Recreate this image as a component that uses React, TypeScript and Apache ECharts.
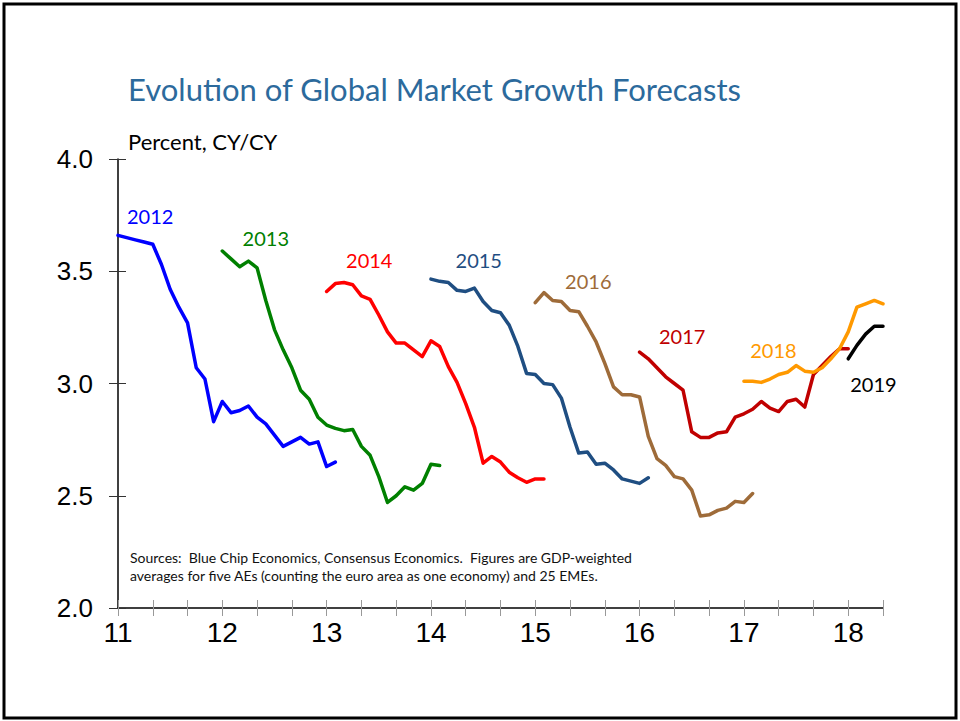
import React, { useEffect, useRef } from "react";
import * as echarts from "echarts";

// Months counted from Jan 2011 (0) ; x-axis labels are years (11 = 2011)
const xTickLabels = ["11", "12", "13", "14", "15", "16", "17", "18"];
const yTickLabels = ["2.0", "2.5", "3.0", "3.5", "4.0"];

const seriesNames = ["2012", "2013", "2014", "2015", "2016", "2017", "2018", "2019"];
const seriesStartMonth = [0, 12, 24, 36, 48, 60, 72, 84];

const f2012 = [3.66, 3.65, 3.64, 3.63, 3.62, 3.53, 3.42, 3.34, 3.27, 3.07, 3.02, 2.83, 2.92, 2.87, 2.88, 2.9, 2.85, 2.82, 2.77, 2.72, 2.74, 2.76, 2.73, 2.74, 2.63, 2.65];
const f2013 = [3.59, 3.555, 3.52, 3.545, 3.515, 3.37, 3.24, 3.15, 3.07, 2.97, 2.93, 2.85, 2.815, 2.8, 2.79, 2.795, 2.72, 2.68, 2.585, 2.47, 2.5, 2.54, 2.525, 2.555, 2.64, 2.635];
const f2014 = [3.41, 3.445, 3.45, 3.44, 3.39, 3.375, 3.305, 3.23, 3.18, 3.18, 3.15, 3.12, 3.19, 3.165, 3.075, 3.005, 2.91, 2.805, 2.645, 2.675, 2.65, 2.605, 2.58, 2.56, 2.575, 2.575];
const f2015 = [3.465, 3.455, 3.45, 3.415, 3.41, 3.425, 3.365, 3.325, 3.315, 3.26, 3.165, 3.045, 3.04, 3.0, 2.995, 2.935, 2.805, 2.69, 2.695, 2.64, 2.645, 2.615, 2.575, 2.565, 2.555, 2.58];
const f2016 = [3.36, 3.405, 3.37, 3.365, 3.325, 3.32, 3.255, 3.185, 3.09, 2.985, 2.95, 2.95, 2.94, 2.765, 2.665, 2.635, 2.585, 2.575, 2.525, 2.41, 2.415, 2.435, 2.445, 2.475, 2.47, 2.51];
const f2017 = [3.14, 3.11, 3.07, 3.03, 3.0, 2.97, 2.785, 2.76, 2.76, 2.78, 2.785, 2.85, 2.865, 2.885, 2.92, 2.89, 2.875, 2.92, 2.93, 2.895, 3.04, 3.08, 3.12, 3.155, 3.155];
const f2018 = [3.01, 3.01, 3.005, 3.02, 3.04, 3.05, 3.08, 3.055, 3.05, 3.07, 3.11, 3.155, 3.23, 3.34, 3.355, 3.37, 3.355];
const f2019 = [3.11, 3.17, 3.22, 3.255, 3.255];

const seriesValues = [f2012, f2013, f2014, f2015, f2016, f2017, f2018, f2019];

// Label anchors in data space: [month, value]
const labelMonth = [3.7, 17.0, 28.9, 41.5, 54.1, 64.9, 75.4, 86.9];
const labelValue = [3.746, 3.648, 3.55, 3.55, 3.457, 3.212, 3.149, 2.998];

const seriesColors = ["#0000FF", "#008000", "#FF0000", "#1F4E82", "#9E6B39", "#C00000", "#FF9900", "#000000"];

const titleText = "Evolution of Global Market Growth Forecasts";
const unitText = "Percent, CY/CY";
const noteLines = [
  "Sources:  Blue Chip Economics, Consensus Economics.  Figures are GDP-weighted",
  "averages for five AEs (counting the euro area as one economy) and 25 EMEs.",
];

export default function App() {
  const ref = useRef<HTMLDivElement>(null);
  useEffect(() => {
    if (!ref.current) return;
    const chart = echarts.init(ref.current, undefined, { renderer: "svg" });
    const xMax = (xTickLabels.length - 1) * 12 + 4;
    const xLabelFmt = (v: number) => {
      if (v % 12 !== 0) return "";
      const i = v / 12;
      return xTickLabels[i] ?? "";
    };
    const yLabelFmt = (v: number) => {
      const i = Math.round((v - 2) / 0.5);
      return yTickLabels[i] ?? "";
    };
    const grid = { left: 118, top: 159, width: 765, height: 449 };
    const series: any[] = seriesValues.map((vals, si) => ({
      type: "line",
      name: seriesNames[si],
      data: vals.map((v, i) => [seriesStartMonth[si] + i, v]),
      symbol: "none",
      showSymbol: false,
      lineStyle: { color: seriesColors[si], width: 3.5, cap: "round", join: "round" },
      itemStyle: { color: seriesColors[si] },
      z: 2 + si,
      markPoint: {
        silent: true,
        symbol: "circle",
        symbolSize: 0,
        data: [{ coord: [labelMonth[si], labelValue[si]], value: seriesNames[si] }],
        label: {
          show: true,
          position: "inside",
          formatter: seriesNames[si],
          color: seriesColors[si],
          fontSize: 20,
          fontFamily: "Lato",
        },
      },
    }));
    chart.setOption({
      animation: false,
      backgroundColor: "#ffffff",
      grid,
      xAxis: [
        {
          type: "value",
          position: "bottom",
          min: 0,
          max: xMax,
          interval: 4,
          splitLine: { show: false },
          axisLine: { show: true, onZero: false, lineStyle: { color: "#000", width: 1.5 } },
          axisTick: { show: true, inside: false, length: 8, lineStyle: { color: "#999", width: 1 } },
          axisLabel: {
            show: true,
            formatter: xLabelFmt,
            color: "#000",
            fontSize: 28,
            fontFamily: "Liberation Sans",
            margin: 10,
          },
        },
        {
          type: "value",
          position: "bottom",
          min: 0,
          max: xMax,
          interval: 4,
          splitLine: { show: false },
          axisLine: { show: false, onZero: false },
          axisTick: { show: true, inside: true, length: 8, lineStyle: { color: "#999", width: 1 } },
          axisLabel: { show: false },
        },
      ],
      yAxis: [
        {
          type: "value",
          position: "left",
          min: 2,
          max: 4,
          interval: 0.5,
          splitLine: { show: false },
          axisLine: { show: true, onZero: false, lineStyle: { color: "#000", width: 1.5 } },
          axisTick: { show: true, inside: false, length: 9, lineStyle: { color: "#333", width: 1 } },
          axisLabel: {
            show: true,
            formatter: yLabelFmt,
            color: "#000",
            fontSize: 26,
            fontFamily: "Liberation Sans",
            margin: 25,
          },
        },
        {
          type: "value",
          position: "left",
          min: 2,
          max: 4,
          interval: 0.5,
          splitLine: { show: false },
          axisLine: { show: false, onZero: false },
          axisTick: { show: true, inside: true, length: 8, lineStyle: { color: "#333", width: 1 } },
          axisLabel: { show: false },
        },
      ],
      series,
      graphic: [
        {
          type: "rect",
          silent: true,
          shape: { x: 4, y: 4, width: 952, height: 714 },
          style: { fill: "none", stroke: "#000", lineWidth: 3 },
        },
        {
          type: "text",
          silent: true,
          style: {
            text: titleText,
            x: 128,
            y: 89,
            fill: "#2C6A9C",
            font: "31px Lato",
            textAlign: "left",
            textVerticalAlign: "middle",
          },
        },
        {
          type: "text",
          silent: true,
          style: {
            text: unitText,
            x: 128,
            y: 141,
            fill: "#000",
            font: "22px Lato",
            textAlign: "left",
            textVerticalAlign: "middle",
          },
        },
        {
          type: "text",
          silent: true,
          style: {
            text: noteLines.join("\n"),
            x: 130,
            y: 548,
            fill: "#111",
            font: "14px Lato",
            lineHeight: 18,
            textAlign: "left",
            textVerticalAlign: "top",
          },
        },
      ],
    });
    return () => chart.dispose();
  }, []);
  return (
    <div
      ref={ref}
      style={{ position: "fixed", left: 0, top: 0, width: 960, height: 721, background: "#fff" }}
    />
  );
}
